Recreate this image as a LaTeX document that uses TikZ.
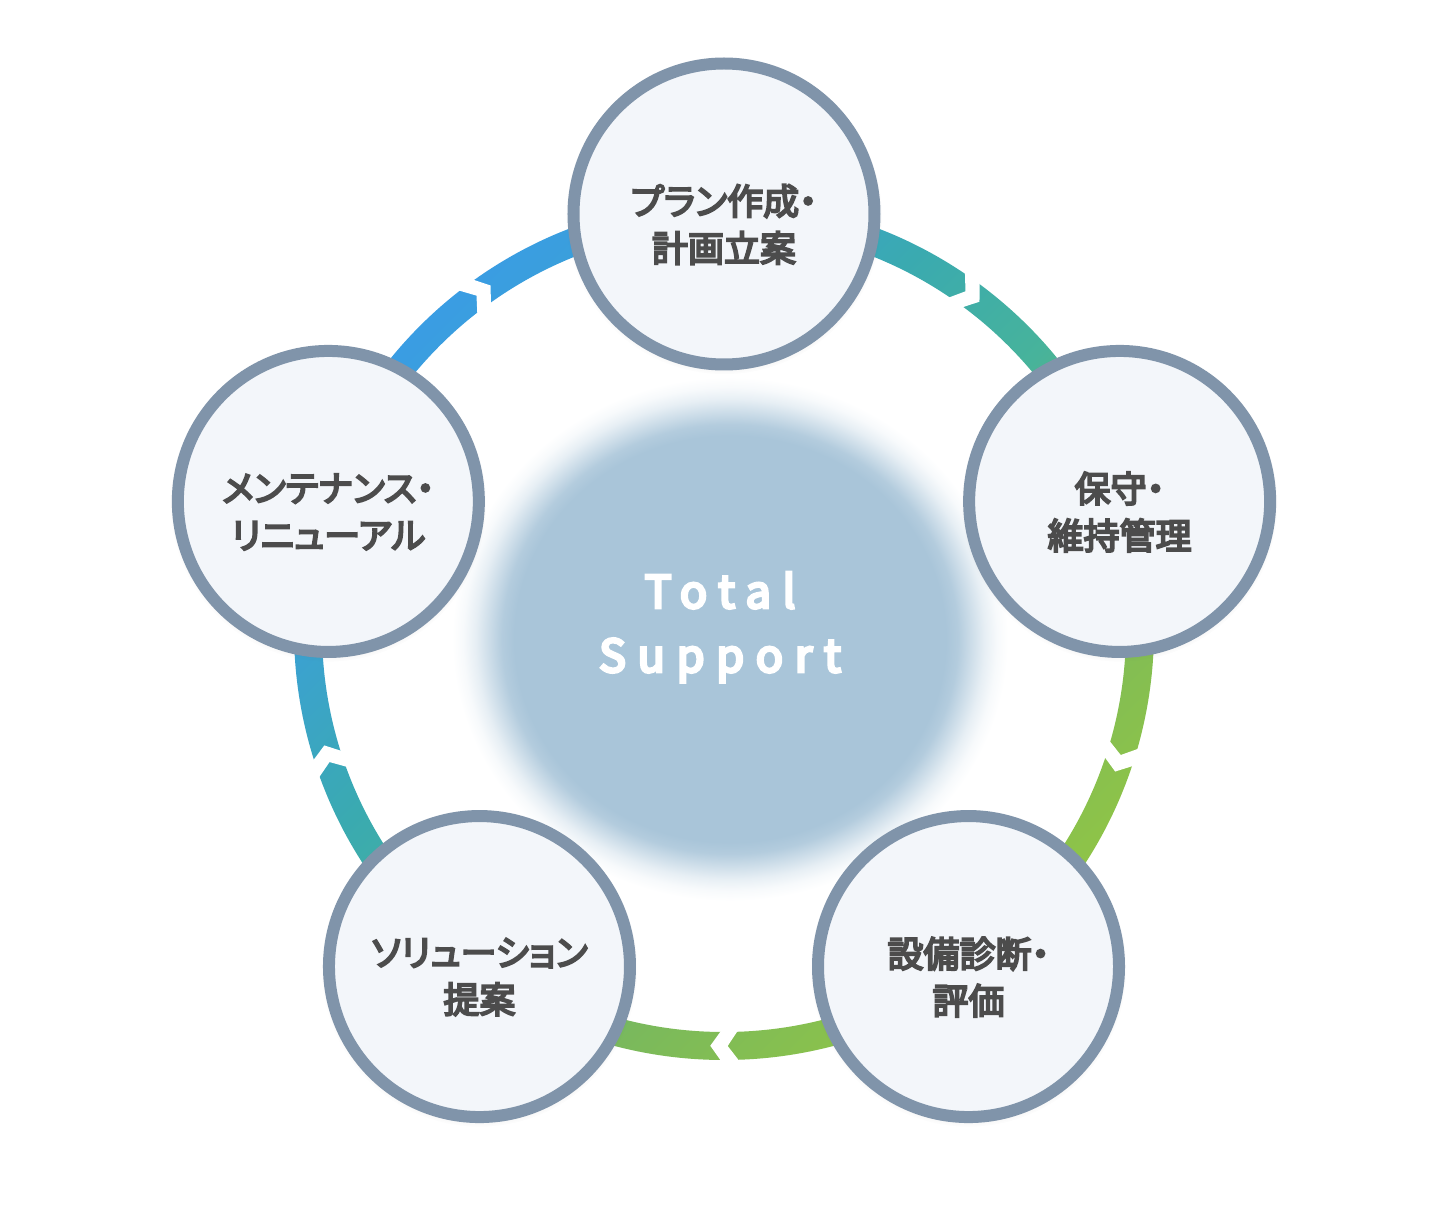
\documentclass[tikz,border=0pt]{standalone}
\usepackage{fontspec}
\newfontfamily\jpfont{Noto Sans CJK JP}[FakeBold=5.5,RawFeature=+palt]
\newfontfamily\tsfont{Noto Sans CJK JP}[FakeBold=6.5,LetterSpace=26]
\usetikzlibrary{shadows,fadings}
\definecolor{ringgray}{HTML}{8094AA}
\definecolor{nodefill}{HTML}{F3F6FA}
\definecolor{txtgray}{HTML}{4C4C4C}
\definecolor{blobc}{HTML}{A9C5D9}
\colorlet{blobA}{blobc!88!white}
\colorlet{blobB}{blobc!58!white}
\colorlet{blobC}{blobc!28!white}
\colorlet{blobD}{blobc!9!white}
\definecolor{gA}{HTML}{3A9DE3}
\definecolor{gB}{HTML}{3BA2CF}
\definecolor{gC}{HTML}{3AAAB0}
\definecolor{gD}{HTML}{47B39B}
\definecolor{gE}{HTML}{7AB95C}
\definecolor{gF}{HTML}{8FC447}
\pgfdeclarehorizontalshading{ringshade}{100bp}{color(0bp)=(gA); color(25bp)=(gA); color(33.7bp)=(gB); color(42.4bp)=(gC); color(51.5bp)=(gD); color(62.8bp)=(gE); color(75bp)=(gF); color(100bp)=(gF)}
\pgfdeclareradialshading{blobshade}{\pgfpoint{0bp}{0bp}}{color(0bp)=(blobc); color(19.4bp)=(blobc); color(20.5bp)=(blobA); color(21.7bp)=(blobB); color(22.9bp)=(blobC); color(24bp)=(blobD); color(25bp)=(white); color(50bp)=(white)}
\tikzset{
  stage/.style={circle, draw=ringgray, line width=12pt, fill=nodefill, minimum size=301pt, inner sep=0pt,
    circular drop shadow={shadow xshift=0pt, shadow yshift=-2pt, shadow scale=1.05, opacity=0.22, fill=black!60}},
  stagetext/.style={align=center, inner sep=0pt, text=txtgray, font=\jpfont\fontsize{36}{47}\selectfont},
  totaltext/.style={inner sep=0pt, anchor=base, text=white, font=\tsfont\fontsize{45}{64}\selectfont},
  gapcut/.style={fill=white}
}
\begin{document}
\begin{tikzpicture}[x=1pt,y=1pt]
\useasboundingbox (-724,-578) rectangle (730,630);
\fill[white] (-724,-578) rectangle (730,630);
% soft central disc
\shade[shading=blobshade] (6,-9) ellipse [x radius=278, y radius=262];
\node[totaltext] (total) at (-4,22) {Total};
\node[totaltext] (support) at (-4,-42) {Support};
% gradient ring
\shade[shading=ringshade, shading angle=-45] (430,0) arc[start angle=0, end angle=360, radius=430] -- (402,0) arc[start angle=360, end angle=0, radius=402] -- cycle;
% chevron gaps (flow clockwise)
\foreach \a in {54,-18,-90,-162,126}{
  \fill[gapcut] ({\a+2.48}:436) -- ({\a+0.51}:416) -- ({\a+2.48}:396) -- ({\a+0.08}:396) -- ({\a-1.89}:416) -- ({\a+0.08}:436) -- cycle;
}
% stages
\node[stage] (plan) at (90:416) {};
\node[stage] (hoshu) at (18:416) {};
\node[stage] (shindan) at (-54:416) {};
\node[stage] (solution) at (-126:416) {};
\node[stage] (maint) at (162:416) {};
\node[stagetext] (plant) at ([yshift=-10.5pt]plan.center) {プラン作成・\\計画立案};
\node[stagetext] (hoshut) at ([yshift=-10.5pt]hoshu.center) {保守・\\維持管理};
\node[stagetext] (shindant) at ([yshift=-10.5pt]shindan.center) {設備診断・\\評価};
\node[stagetext] (solutiont) at ([yshift=-10.5pt]solution.center) {ソリューション\\提案};
\node[stagetext] (maintt) at ([yshift=-10.5pt]maint.center) {メンテナンス・\\リニューアル};
\end{tikzpicture}
\end{document}
